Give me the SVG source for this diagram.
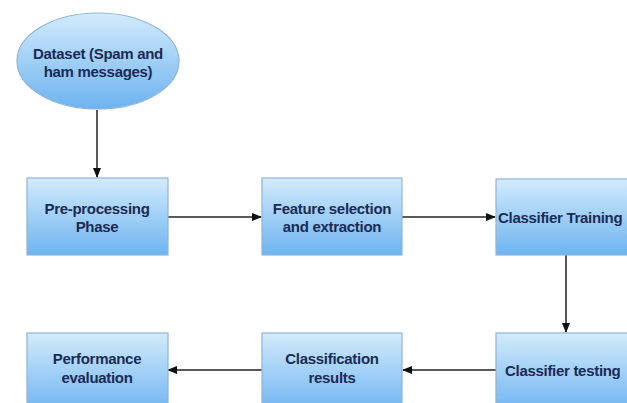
<svg xmlns="http://www.w3.org/2000/svg" width="627" height="403" viewBox="0 0 627 403">
<defs>
<linearGradient id="g" x1="0" y1="0" x2="0" y2="1">
<stop offset="0" stop-color="#d3ebfc"/>
<stop offset="1" stop-color="#6db3f0"/>
</linearGradient>
<marker id="ah" markerWidth="10" markerHeight="8" refX="9" refY="4" orient="auto" markerUnits="userSpaceOnUse">
<path d="M0,0 L10,4 L0,8 Z" fill="#111"/>
</marker>
<style>
.n{fill:url(#g);stroke:#8fb5d6;stroke-width:1.2}
.t{font-family:"Liberation Sans",Arial,sans-serif;font-weight:bold;font-size:15px;fill:#1a2b55;text-anchor:middle;letter-spacing:-0.3px}
.c{stroke:#222;stroke-width:1.5;fill:none;marker-end:url(#ah)}
</style>
</defs>
<rect width="627" height="403" fill="#fff"/>
<g id="connectors">
<line class="c" x1="97" y1="110" x2="97" y2="177"/>
<line class="c" x1="168" y1="217" x2="261" y2="217"/>
<line class="c" x1="402" y1="217" x2="495" y2="217"/>
<line class="c" x1="566" y1="255" x2="566" y2="332"/>
<line class="c" x1="496" y1="370" x2="403" y2="370"/>
<line class="c" x1="262" y1="370" x2="168" y2="370"/>
</g>
<g id="dataset">
<ellipse class="n" cx="98" cy="61" rx="81" ry="48"/>
<text class="t" x="98" y="59">Dataset (Spam and</text>
<text class="t" x="98" y="77">ham messages)</text>
</g>
<g id="preprocessing">
<rect class="n" x="27" y="178" width="141" height="77"/>
<text class="t" x="97" y="214">Pre-processing</text>
<text class="t" x="97" y="232">Phase</text>
</g>
<g id="feature">
<rect class="n" x="262" y="178" width="140" height="77"/>
<text class="t" x="332" y="214">Feature selection</text>
<text class="t" x="332" y="232">and extraction</text>
</g>
<g id="training">
<rect class="n" x="496" y="179" width="145" height="76"/>
<text class="t" x="498" y="223" style="text-anchor:start">Classifier Training</text>
</g>
<g id="testing">
<rect class="n" x="496" y="333" width="145" height="80"/>
<text class="t" x="505" y="376" style="text-anchor:start">Classifier testing</text>
</g>
<g id="results">
<rect class="n" x="262" y="333" width="140" height="80"/>
<text class="t" x="332" y="364">Classification</text>
<text class="t" x="332" y="383">results</text>
</g>
<g id="performance">
<rect class="n" x="27" y="333" width="141" height="80"/>
<text class="t" x="97" y="364">Performance</text>
<text class="t" x="97" y="383">evaluation</text>
</g>
</svg>
